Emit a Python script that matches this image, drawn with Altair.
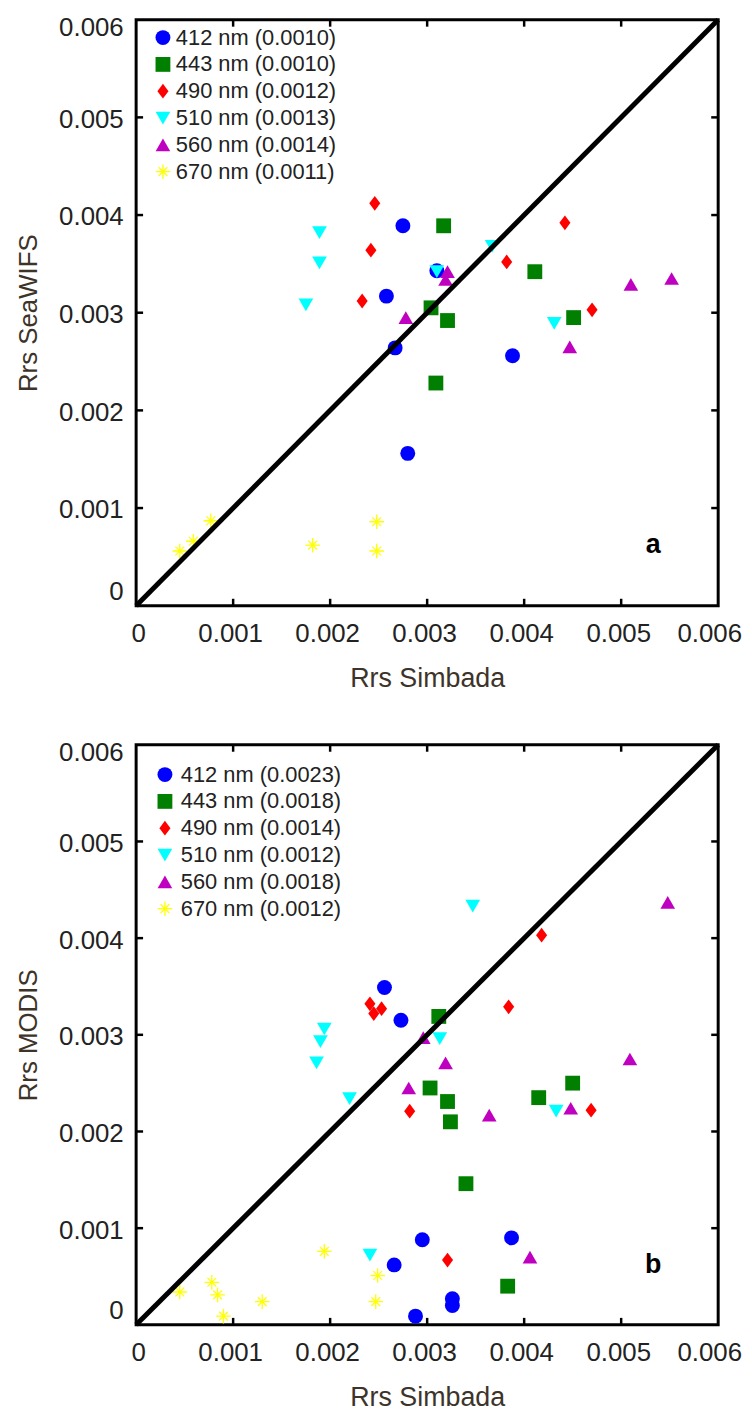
import altair as alt
import pandas as pd

# ---------------- data ----------------
axis_values = [0, 0.001, 0.002, 0.003, 0.004, 0.005, 0.006]
inner_ticks = [0.001, 0.002, 0.003, 0.004, 0.005]

bands = ["412 nm", "443 nm", "490 nm", "510 nm", "560 nm", "670 nm"]
rmse_seawifs = ["0.0010", "0.0010", "0.0012", "0.0013", "0.0014", "0.0011"]
rmse_modis = ["0.0023", "0.0018", "0.0014", "0.0012", "0.0018", "0.0012"]
colors = ["#0000ff", "#007f00", "#ff0000", "#00ffff", "#c000c0", "#ffff00"]

# Panel a : SeaWiFS vs Simbada
sw_412_x = [0.00275, 0.00310, 0.00258, 0.00267, 0.00388, 0.00280]
sw_412_y = [0.00389, 0.00343, 0.00317, 0.00264, 0.00256, 0.00156]
sw_443_x = [0.00317, 0.00411, 0.00304, 0.00321, 0.00451, 0.00309]
sw_443_y = [0.00389, 0.00342, 0.00305, 0.00292, 0.00295, 0.00228]
sw_490_x = [0.00246, 0.00242, 0.00233, 0.00382, 0.00442, 0.00470]
sw_490_y = [0.00412, 0.00364, 0.00312, 0.00352, 0.00392, 0.00303]
sw_510_x = [0.00189, 0.00189, 0.00175, 0.00310, 0.00367, 0.00431]
sw_510_y = [0.00382, 0.00351, 0.00308, 0.00342, 0.00368, 0.00289]
sw_560_x = [0.00321, 0.00319, 0.00278, 0.00447, 0.00510, 0.00552]
sw_560_y = [0.00342, 0.00334, 0.00295, 0.00265, 0.00329, 0.00335]
sw_670_x = [0.00045, 0.00059, 0.00077, 0.00182, 0.00248, 0.00248]
sw_670_y = [0.00056, 0.00066, 0.00087, 0.00062, 0.00086, 0.00056]

# Panel b : MODIS vs Simbada
mo_412_x = [0.00256, 0.00273, 0.00295, 0.00387, 0.00266, 0.00326, 0.00326, 0.00288]
mo_412_y = [0.00349, 0.00315, 0.00088, 0.00090, 0.00062, 0.00027, 0.00020, 0.00009]
mo_443_x = [0.00312, 0.00303, 0.00321, 0.00324, 0.00415, 0.00450, 0.00340, 0.00383]
mo_443_y = [0.00319, 0.00245, 0.00231, 0.00210, 0.00235, 0.00250, 0.00146, 0.00040]
mo_490_x = [0.00241, 0.00245, 0.00253, 0.00384, 0.00282, 0.00469, 0.00321, 0.00418]
mo_490_y = [0.00332, 0.00322, 0.00327, 0.00329, 0.00221, 0.00222, 0.00067, 0.00403]
mo_510_x = [0.00194, 0.00190, 0.00186, 0.00220, 0.00313, 0.00433, 0.00241, 0.00347]
mo_510_y = [0.00306, 0.00293, 0.00271, 0.00234, 0.00296, 0.00221, 0.00072, 0.00433]
mo_560_x = [0.00296, 0.00319, 0.00281, 0.00364, 0.00448, 0.00509, 0.00406, 0.00548]
mo_560_y = [0.00297, 0.00271, 0.00245, 0.00217, 0.00224, 0.00275, 0.00070, 0.00437]
mo_670_x = [0.00045, 0.00078, 0.00084, 0.00090, 0.00130, 0.00194, 0.00249, 0.00247]
mo_670_y = [0.00034, 0.00044, 0.00031, 0.00009, 0.00024, 0.00076, 0.00051, 0.00024]

# ---------------- styling ----------------
FONT = "Liberation Sans"
LABEL_COLOR = "#222222"
TITLE_COLOR = "#3d3329"
W = 586

diamond = "M0,-1L0.75,0L0,1L-0.75,0Z"
asterisk = ("M-1,-0.09L1,-0.09L1,0.09L-1,0.09Z"
            "M-0.09,-1L0.09,-1L0.09,1L-0.09,1Z"
            "M-0.66,-0.54L-0.54,-0.66L0.66,0.54L0.54,0.66Z"
            "M-0.54,0.66L-0.66,0.54L0.54,-0.66L0.66,-0.54Z")
shapes = ["circle", "square", diamond, "triangle-down", "triangle-up", asterisk]
sizes = [225, 215, 330, 380, 380, 300]


def build_df(xs, ys, labels):
    rows = []
    for lab, xv, yv in zip(labels, xs, ys):
        for a, b in zip(xv, yv):
            rows.append({"sim": a, "sat": b, "label": lab})
    return pd.DataFrame(rows)


def panel(df, labels, ytitle, letter, H, leg_x, leg_y, leg_off):
    xs = alt.Scale(domain=[0, 0.006], nice=False, zero=False)
    ys = alt.Scale(domain=[0, 0.006], nice=False, zero=False)
    fmt = "datum.value == 0 ? '0' : format(datum.value, '.3f')"
    x_label_offset = {
        "condition": [
            {"test": "datum.value == 0", "value": 2},
            {"test": "datum.value > 0.0055", "value": -9},
        ],
        "value": -3,
    }
    y_label_offset = {
        "condition": [
            {"test": "datum.value == 0", "value": -1},
            {"test": "datum.value > 0.0055", "value": 8},
        ],
        "value": 2,
    }
    y_label_baseline = {
        "condition": {"test": "datum.value == 0", "value": "bottom"},
        "value": "middle",
    }
    xaxis = alt.Axis(values=axis_values, labelExpr=fmt, ticks=False, tickSize=0,
                     domain=False, grid=False, labelPadding=15, titlePadding=19,
                     labelFlush=False, labelOffset=x_label_offset,
                     labelFontSize=26, titleFontSize=27, labelFont=FONT, titleFont=FONT,
                     labelColor=LABEL_COLOR, titleColor=TITLE_COLOR, titleFontWeight="normal")
    yaxis = alt.Axis(values=axis_values, labelExpr=fmt, ticks=False, tickSize=0,
                     domain=False, grid=False, labelPadding=13, titlePadding=17,
                     labelFlush=False, labelBaseline=y_label_baseline,
                     labelOffset=y_label_offset, labelFontSize=26, titleFontSize=26,
                     labelFont=FONT, titleFont=FONT, labelColor=LABEL_COLOR,
                     titleColor=TITLE_COLOR, titleFontWeight="normal")
    leg = alt.Legend(orient="none", legendX=leg_x, legendY=leg_y, title=None,
                     labelFontSize=22, labelFont=FONT, labelColor=LABEL_COLOR,
                     labelOffset=leg_off, rowPadding=5, padding=0,
                     symbolStrokeWidth=0, labelLimit=400)
    X = lambda f: alt.X(f, scale=xs, axis=xaxis, title="Rrs Simbada")
    Y = lambda f: alt.Y(f, scale=ys, axis=yaxis, title=ytitle)
    pts = alt.Chart(df).mark_point(filled=True, opacity=1, strokeWidth=0).encode(
        x=X("sim:Q"),
        y=Y("sat:Q"),
        color=alt.Color("label:N", scale=alt.Scale(domain=labels, range=colors), legend=leg),
        shape=alt.Shape("label:N", scale=alt.Scale(domain=labels, range=shapes), legend=leg),
        size=alt.Size("label:N", scale=alt.Scale(domain=labels, range=sizes), legend=leg),
    )
    diag = alt.Chart().mark_rule(color="black", strokeWidth=5).encode(
        x=alt.datum(0), y=alt.datum(0), x2=alt.datum(0.006), y2=alt.datum(0.006))
    txt = alt.Chart().mark_text(fontSize=27, fontWeight="bold", font=FONT,
                                color="black").encode(
        x=alt.datum(0.00533), y=alt.datum(0.00062), text=alt.value(letter))
    tdf = pd.DataFrame({"v": inner_ticks})
    tb = alt.Chart(tdf).mark_rule(color="black", strokeWidth=2.5)
    t_bottom = tb.encode(x=X("v:Q"), y=alt.value(H), y2=alt.value(H - 7))
    t_top = tb.encode(x=X("v:Q"), y=alt.value(0), y2=alt.value(7))
    t_left = tb.encode(y=Y("v:Q"), x=alt.value(0), x2=alt.value(7))
    t_right = tb.encode(y=Y("v:Q"), x=alt.value(W), x2=alt.value(W - 7))
    return alt.layer(pts, t_bottom, t_top, t_left, t_right, diag, txt).properties(width=W, height=H)


labels_a = [f"{b} ({r})" for b, r in zip(bands, rmse_seawifs)]
labels_b = [f"{b} ({r})" for b, r in zip(bands, rmse_modis)]

df_a = build_df([sw_412_x, sw_443_x, sw_490_x, sw_510_x, sw_560_x, sw_670_x],
                [sw_412_y, sw_443_y, sw_490_y, sw_510_y, sw_560_y, sw_670_y], labels_a)
df_b = build_df([mo_412_x, mo_443_x, mo_490_x, mo_510_x, mo_560_x, mo_670_x],
                [mo_412_y, mo_443_y, mo_490_y, mo_510_y, mo_560_y, mo_670_y], labels_b)

top = panel(df_a, labels_a, "Rrs SeaWIFS", "a", 590, 16, 7, 2)
bottom = panel(df_b, labels_b, "Rrs MODIS", "b", 584, 18, 19, 5)

chart = (
    alt.vconcat(top, bottom, spacing=45)
    .resolve_scale(color="independent", shape="independent", size="independent")
    .resolve_legend(color="independent", shape="independent", size="independent")
    .properties(padding={"left": 6, "top": 0, "right": 0, "bottom": 0}, background="white")
    .configure_view(stroke="black", strokeWidth=3)
)

chart.save("out.html", embed_options={"renderer": "svg", "actions": False})
